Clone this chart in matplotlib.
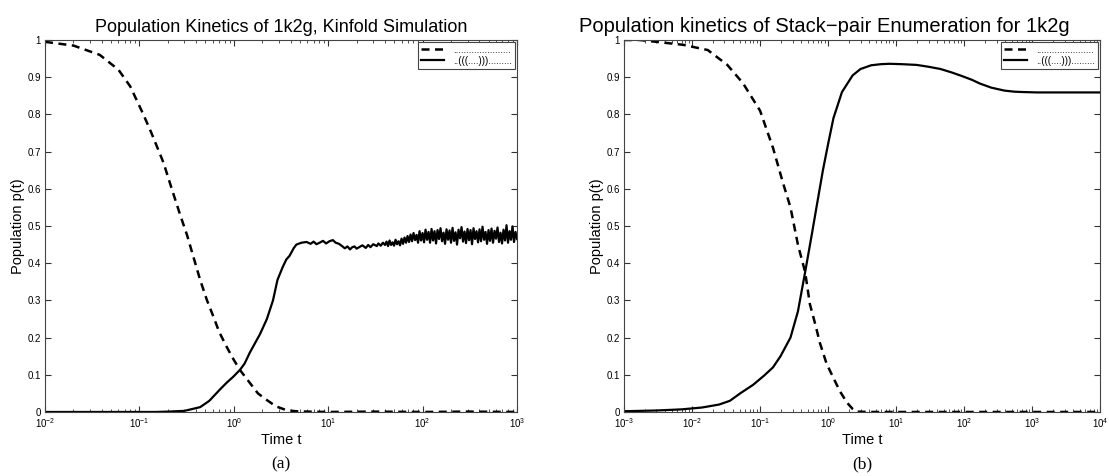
import numpy as np
import matplotlib
matplotlib.use("Agg")
import matplotlib.pyplot as plt

plt.rcParams['font.family'] = ['Liberation Sans', 'DejaVu Sans']

# panel (a): Kinfold simulation
a_t_open = [0.01, 0.02, 0.038, 0.06, 0.08, 0.11, 0.134, 0.18, 0.22, 0.27, 0.32, 0.38,
            0.44, 0.52, 0.6, 0.7, 0.84, 1.0, 1.16, 1.48, 1.8, 2.24, 2.8, 3.6, 4.5, 6, 10,
            30, 100, 300, 1000]
a_p_open = [0.995, 0.985, 0.96, 0.92, 0.875, 0.8, 0.75, 0.67, 0.6, 0.53, 0.475, 0.41,
            0.355, 0.3, 0.26, 0.215, 0.175, 0.14, 0.113, 0.078, 0.05, 0.032, 0.015, 0.005,
            0.002, 0.001, 0.0, 0.001, 0.0, 0.001, 0.0]
a_t_hp = [0.01, 0.05, 0.1, 0.15, 0.2, 0.3, 0.44, 0.55, 0.71, 0.85, 0.98, 1.16, 1.3,
          1.48, 1.9, 2.24, 2.6, 2.9, 3.3, 3.6, 3.9, 4.3, 4.6, 5.2, 5.9, 6.5, 7.0, 7.5, 8.1,
          8.8, 9.5, 10.3, 11.2, 12, 13, 14, 15, 16, 17, 18, 19, 20, 21.6, 23, 25, 26.5, 28,
          30, 32.7, 34, 36, 38]
a_p_hp = [0.0, 0.0, 0.0, 0.0, 0.001, 0.003, 0.013, 0.03, 0.06, 0.08, 0.094, 0.113, 0.13,
          0.16, 0.21, 0.25, 0.3, 0.355, 0.39, 0.41, 0.42, 0.44, 0.45, 0.455, 0.457, 0.452,
          0.458, 0.451, 0.455, 0.46, 0.453, 0.459, 0.462, 0.455, 0.452, 0.446, 0.44, 0.445,
          0.437, 0.443, 0.445, 0.439, 0.444, 0.448, 0.441, 0.449, 0.443, 0.451, 0.446,
          0.453, 0.447, 0.455]
# noisy tail of the hairpin curve (t from 40 to 1000)
a_p_tail = [0.449, 0.458, 0.446, 0.461, 0.449, 0.456, 0.447, 0.463, 0.451, 0.459, 0.448,
            0.466, 0.452, 0.469, 0.455, 0.473, 0.457, 0.477, 0.459, 0.481, 0.462, 0.476,
            0.455, 0.486, 0.461, 0.481, 0.456, 0.49, 0.463, 0.484, 0.455, 0.492, 0.461, 0.486,
            0.453, 0.489, 0.465, 0.494, 0.459, 0.482, 0.452, 0.491, 0.463, 0.488, 0.455, 0.495,
            0.46, 0.483, 0.45, 0.49, 0.467, 0.497, 0.458, 0.485, 0.454, 0.492, 0.462, 0.489,
            0.451, 0.494, 0.465, 0.486, 0.456, 0.491, 0.459, 0.498, 0.463, 0.484, 0.452,
            0.489, 0.46, 0.493, 0.455, 0.487, 0.466, 0.496, 0.457, 0.482, 0.453, 0.49, 0.461,
            0.502, 0.455, 0.486, 0.463, 0.499, 0.457, 0.484, 0.465]

# panel (b): stack-pair enumeration
b_t_open = [0.001, 0.0017, 0.0074, 0.017, 0.033, 0.056, 0.1, 0.155, 0.218, 0.28, 0.36,
            0.46, 0.54, 0.65, 0.76, 0.95, 1.18, 1.5, 1.9, 2.3, 2.6, 4, 10, 100, 1000, 10000]
b_p_open = [1.0, 1.0, 0.987, 0.973, 0.933, 0.884, 0.81, 0.71, 0.615, 0.55, 0.45, 0.376,
            0.29, 0.235, 0.185, 0.13, 0.094, 0.055, 0.025, 0.008, 0.001, 0.0, 0.0, 0.0, 0.0,
            0.0]
b_t_hp = [0.001, 0.003, 0.007, 0.014, 0.025, 0.036, 0.051, 0.079, 0.115, 0.155, 0.2, 0.28,
          0.36, 0.46, 0.58, 0.69, 0.84, 1.0, 1.2, 1.6, 2.3, 3.0, 4.3, 6, 8, 12, 20,
          30, 45, 65, 90, 130, 170, 250, 390, 550, 750, 1200, 3000, 10000]
b_p_hp = [0.002, 0.004, 0.007, 0.012, 0.02, 0.03, 0.05, 0.073, 0.098, 0.12, 0.15, 0.2,
          0.27, 0.376, 0.48, 0.56, 0.65, 0.72, 0.79, 0.86, 0.905, 0.922, 0.932, 0.935,
          0.936, 0.935, 0.933, 0.928, 0.922, 0.913, 0.904, 0.893, 0.883, 0.872, 0.864,
          0.861, 0.86, 0.859, 0.859, 0.859]

labels = ['......................', '..(((....))).........']
titles = ['Population Kinetics of 1k2g, Kinfold Simulation',
          'Population kinetics of Stack\u2212pair Enumeration for 1k2g']
title_sizes = [13, 14.5]
panel_tags = ['(a)', '(b)']

a_t_tail = np.geomspace(40, 1000, len(a_p_tail))

fig = plt.figure(figsize=(11.09, 4.76), dpi=100)
ax_a = fig.add_axes([0.0406, 0.1345, 0.4256, 0.7815])
ax_b = fig.add_axes([0.5627, 0.1345, 0.4293, 0.7815])

ax_a.plot(a_t_open, a_p_open, 'k--', lw=1.8, dashes=(3.2, 2.2), label=labels[0])
ax_a.plot(list(a_t_hp) + list(a_t_tail), list(a_p_hp) + list(a_p_tail), 'k-', lw=1.6,
          label=labels[1])
ax_a.set_xlim(1e-2, 1e3)

ax_b.plot(b_t_open, b_p_open, 'k--', lw=1.8, dashes=(3.2, 2.2), label=labels[0])
ax_b.plot(b_t_hp, b_p_hp, 'k-', lw=1.6, label=labels[1])
ax_b.set_xlim(1e-3, 1e4)

for ax, title, tsize, tag in zip([ax_a, ax_b], titles, title_sizes, panel_tags):
    ax.set_xscale('log')
    ax.set_ylim(0, 1)
    ax.set_yticks(np.arange(0, 1.01, 0.1))
    ax.set_yticklabels(['0', '0.1', '0.2', '0.3', '0.4', '0.5', '0.6', '0.7', '0.8',
                        '0.9', '1'])
    ax.tick_params(which='both', direction='in', top=True, right=True, labelsize=7,
                   color='#333333', pad=3)
    ax.tick_params(which='major', length=4)
    ax.tick_params(which='minor', length=2)
    for s in ax.spines.values():
        s.set_color('#444444')
        s.set_linewidth(0.8)
    ax.set_title(title, fontsize=tsize, pad=6)
    ax.set_ylabel('Population p(t)', fontsize=10.5, labelpad=2)
    ax.set_xlabel('Time t', fontsize=10.5, labelpad=2)
    ax.text(0.5, -0.14, tag, transform=ax.transAxes, ha='center', va='center',
            fontsize=12.5, family='Liberation Serif')
    leg = ax.legend(loc='upper right', fontsize=7, handlelength=2.3, fancybox=False,
                    framealpha=1, edgecolor='#444444', borderaxespad=0.2,
                    labelspacing=0.1, borderpad=0.3, handletextpad=1.0)
    leg.get_frame().set_linewidth(0.8)

# the right-hand title sits a little left of its axes' centre
ax_b.title.set_x(0.42)

fig.savefig('out.png', dpi=100)
